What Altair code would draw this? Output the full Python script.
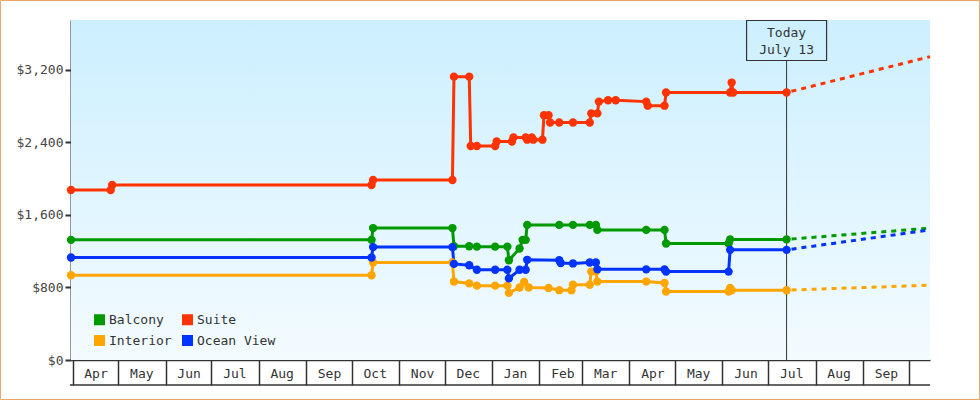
import altair as alt
import pandas as pd

FONT = "DejaVu Sans Mono"
INK = "#333333"

series_names = ["Balcony", "Interior", "Suite", "Ocean View"]
series_colors = ["#009900", "#ffa500", "#ff3300", "#0033ff"]

suite_dates = ["2024-03-31", "2024-04-26", "2024-04-27", "2024-10-14", "2024-10-15", "2024-12-06",
               "2024-12-07", "2024-12-17", "2024-12-18", "2024-12-22", "2025-01-03", "2025-01-04",
               "2025-01-14", "2025-01-15", "2025-01-23", "2025-01-24", "2025-01-27", "2025-01-28",
               "2025-02-03", "2025-02-04", "2025-02-07", "2025-02-08", "2025-02-14", "2025-02-23",
               "2025-03-06", "2025-03-07", "2025-03-11", "2025-03-12", "2025-03-18", "2025-03-23",
               "2025-04-12", "2025-04-13", "2025-04-24", "2025-04-25", "2025-06-06", "2025-06-07",
               "2025-06-08", "2025-07-13"]
suite_prices = [1875, 1875, 1930, 1930, 1985, 1985,
                3125, 3125, 2360, 2360, 2360, 2410,
                2410, 2455, 2455, 2430, 2455, 2430,
                2430, 2700, 2700, 2620, 2620, 2620,
                2620, 2720, 2720, 2850, 2865, 2865,
                2850, 2805, 2805, 2950, 2950, 3060,
                2950, 2950]

balcony_dates = ["2024-03-31", "2024-10-14", "2024-10-15", "2024-12-06", "2024-12-07", "2024-12-17",
                 "2024-12-22", "2025-01-03", "2025-01-11", "2025-01-12", "2025-01-19", "2025-01-21",
                 "2025-01-23", "2025-01-24", "2025-02-14", "2025-02-23", "2025-03-06", "2025-03-10",
                 "2025-03-11", "2025-04-12", "2025-04-24", "2025-04-25", "2025-06-05", "2025-06-06",
                 "2025-07-13"]
balcony_prices = [1325, 1325, 1455, 1455, 1255, 1255,
                  1250, 1250, 1250, 1100, 1230, 1325,
                  1325, 1490, 1490, 1490, 1490, 1490,
                  1435, 1435, 1435, 1285, 1285, 1330,
                  1330]

ocean_dates = ["2024-03-31", "2024-10-14", "2024-10-15", "2024-12-06", "2024-12-07", "2024-12-17",
               "2024-12-22", "2025-01-03", "2025-01-11", "2025-01-12", "2025-01-19", "2025-01-23",
               "2025-01-24", "2025-02-14", "2025-02-15", "2025-02-23", "2025-03-06", "2025-03-10",
               "2025-03-11", "2025-04-12", "2025-04-24", "2025-04-25", "2025-06-05", "2025-06-06",
               "2025-07-13"]
ocean_prices = [1130, 1130, 1245, 1245, 1060, 1045,
                995, 995, 995, 900, 995, 995,
                1105, 1100, 1070, 1065, 1075, 1075,
                1000, 1000, 1000, 975, 975, 1215,
                1215]

interior_dates = ["2024-03-31", "2024-10-14", "2024-10-15", "2024-12-06", "2024-12-07", "2024-12-17",
                  "2024-12-22", "2025-01-03", "2025-01-11", "2025-01-12", "2025-01-19", "2025-01-22",
                  "2025-01-25", "2025-02-07", "2025-02-14", "2025-02-22", "2025-02-23", "2025-03-06",
                  "2025-03-07", "2025-03-10", "2025-03-11", "2025-04-12", "2025-04-24", "2025-04-25",
                  "2025-06-05", "2025-06-06", "2025-06-07", "2025-07-13"]
interior_prices = [935, 935, 1075, 1075, 865, 845,
                   820, 820, 820, 740, 800, 860,
                   800, 795, 770, 770, 830, 830,
                   975, 975, 865, 865, 850, 755,
                   755, 795, 770, 770]

today_date = "2025-07-13"
projection_end_date = "2025-10-15"
projection_end_prices = {"Balcony": 1455, "Suite": 3345, "Interior": 825, "Ocean View": 1435}

month_ticks = [(2024, m) for m in range(4, 13)] + [(2025, m) for m in range(1, 11)]
y_ticks = [0, 800, 1600, 2400, 3200]

# ---- tables ----
rows = []
for name, ds, ps in [("Interior", interior_dates, interior_prices),
                     ("Balcony", balcony_dates, balcony_prices),
                     ("Ocean View", ocean_dates, ocean_prices),
                     ("Suite", suite_dates, suite_prices)]:
    for d, p in zip(ds, ps):
        rows.append({"series": name, "date": d, "price": p})
df = pd.DataFrame(rows)

last = {"Interior": interior_prices[-1], "Balcony": balcony_prices[-1],
        "Ocean View": ocean_prices[-1], "Suite": suite_prices[-1]}
proj_rows = []
for name in series_names:
    proj_rows.append({"series": name, "date": today_date, "price": last[name]})
    proj_rows.append({"series": name, "date": projection_end_date, "price": projection_end_prices[name]})
proj = pd.DataFrame(proj_rows)

W, H = 859, 340
one = pd.DataFrame({"k": [0]})

x_scale = alt.Scale(type="utc", domain=[alt.DateTime(year=2024, month=3, date=31, utc=True),
                                         alt.DateTime(year=2025, month=10, date=15, utc=True)])
y_scale = alt.Scale(domain=[0, 3750], nice=False)

x_enc = alt.X("date:T", scale=x_scale, title=None,
              axis=alt.Axis(values=[alt.DateTime(year=y, month=m, date=1, utc=True) for y, m in month_ticks],
                            labelExpr="utcyear(datum.value) == 2025 && utcmonth(datum.value) == 9 ? '' : utcFormat(datum.value, '%b')",
                            tickSize=25, tickWidth=1.5, tickColor=INK,
                            domainColor=INK, domainWidth=1.5,
                            labelPadding=-12, labelBaseline="middle", labelOffset=23,
                            labelAlign="center", labelFont=FONT, labelFontSize=13, labelColor=INK,
                            grid=False, labelFlush=False))
y_enc = alt.Y("price:Q", scale=y_scale, title=None,
              axis=alt.Axis(values=y_ticks, format="$,.0f", tickSize=6, tickWidth=2, tickColor=INK,
                            domainColor=INK, domainWidth=2, labelPadding=2,
                            labelFont=FONT, labelFontSize=13, labelColor="#444444", grid=False))

color_enc = alt.Color("series:N",
                      scale=alt.Scale(domain=series_names, range=series_colors),
                      legend=alt.Legend(title=None, orient="none", legendX=22, legendY=293,
                                        columns=2, symbolType="square", symbolSize=121,
                                        symbolStrokeWidth=0, symbolOpacity=1,
                                        labelFont=FONT, labelFontSize=13, labelColor=INK,
                                        labelOffset=3, rowPadding=7, columnPadding=9))

gradient = alt.LinearGradient(gradient="linear",
                              stops=[alt.GradientStop(offset=0, color="#ccefff"),
                                     alt.GradientStop(offset=1, color="#f3fbff")],
                              x1=0, x2=0, y1=0, y2=1)

bg = alt.Chart(one).mark_rect(fill=gradient).encode(
    x=alt.value(0), x2=alt.value(W), y=alt.value(0), y2=alt.value(H))

border = alt.Chart(one).mark_rect(fill=None, stroke="#e8aa66", strokeWidth=1).encode(
    x=alt.value(-70.5), x2=alt.value(908.5), y=alt.value(-19.5), y2=alt.value(379.5))

bottom_line = alt.Chart(one).mark_rule(color=INK, strokeWidth=1.5).encode(
    x=alt.value(-1), x2=alt.value(W), y=alt.value(365))

today_dt = alt.DateTime(year=2025, month=7, date=13, utc=True)
today_rule = alt.Chart(one).mark_rule(color=INK, strokeWidth=1).encode(
    x=alt.X(datum=today_dt, type="temporal"), y=alt.value(40), y2=alt.value(H))
today_box = alt.Chart(one).mark_rect(fill=None, stroke=INK, strokeWidth=1.2,
                                     xOffset=-40, x2Offset=40).encode(
    x=alt.X(datum=today_dt, type="temporal"), x2=alt.X2(datum=today_dt),
    y=alt.value(0.5), y2=alt.value(40.5))
today_text = alt.Chart(one).mark_text(text=["Today", "July 13"], font=FONT, fontSize=13,
                                      color=INK, lineHeight=17, baseline="middle",
                                      align="center").encode(
    x=alt.X(datum=today_dt, type="temporal"), y=alt.value(12.5))

proj_layers = []
for name, col in zip(series_names, series_colors):
    proj_layers.append(
        alt.Chart(proj[proj.series == name]).mark_line(color=col, strokeWidth=3, strokeDash=[5, 5],
                                                        strokeDashOffset=-5)
        .encode(x=alt.X("date:T"), y=alt.Y("price:Q")))

lines = alt.Chart(df).mark_line(strokeWidth=3).encode(x=x_enc, y=y_enc, color=color_enc,
                                                      detail="series:N")
points = alt.Chart(df).mark_point(filled=True, size=70, opacity=1, shape="circle").encode(
    x=alt.X("date:T"), y=alt.Y("price:Q"), color=color_enc)

chart = alt.layer(bg, border, bottom_line, today_rule, today_box, today_text,
                  *proj_layers, lines, points).properties(
    width=W, height=H,
    autosize=alt.AutoSizeParams(type="none"),
    padding={"left": 71, "top": 20, "right": 50, "bottom": 40},
    background="white",
).configure_view(stroke=None)

chart.save("out.html", embed_options={"renderer": "svg", "actions": False})
